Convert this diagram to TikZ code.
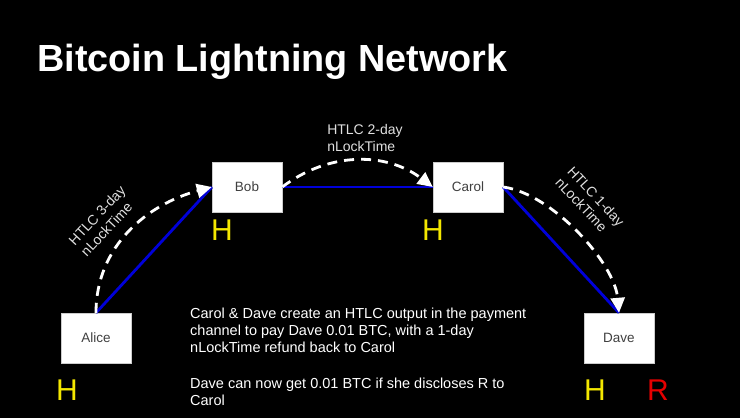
\documentclass[tikz,border=0pt]{standalone}
\usepackage{fontspec}
\setmainfont{Liberation Sans}
\usetikzlibrary{arrows.meta}

\tikzset{
  party/.style={fill=white, draw=black!20, minimum width=70pt, minimum height=50pt,
    inner sep=0pt, font=\fontsize{13.5}{15}\selectfont, text=black!75},
  hashmark/.style={font=\fontsize{30}{30}\selectfont, text=yellow!90!olive},
  channel/.style={line width=2.8pt, blue!85!black},
  htlc/.style={line width=2.8pt, white, dash pattern=on 10pt off 7pt,
    -{Triangle[length=15pt,width=14pt,fill=white]}},
  timelabel/.style={font=\fontsize{14}{16.5}\selectfont, text=black!12, align=left}
}

\begin{document}
\begin{tikzpicture}[x=1pt, y=1pt]
        % background
        \fill[black] (0,0) rectangle (740,418);
        \useasboundingbox (0,0) rectangle (740,418);
        % title
        \node[anchor=base west, text=white, font=\fontsize{37.8}{40}\selectfont\bfseries,
          inner sep=0pt] (title) at (37,346) {Bitcoin Lightning Network};
        % parties
        \node[party] (alice) at (96,80) {Alice};
        \node[party] (bob) at (247,231) {Bob};
        \node[party] (carol) at (468,231) {Carol};
        \node[party] (dave) at (619,80) {Dave};
        % hashes
        \node[hashmark] (hA) at (67,28) {H};
        \node[hashmark] (hB) at (222,188) {H};
        \node[hashmark] (hC) at (433,188) {H};
        \node[hashmark] (hD) at (595,28) {H};
        \node[hashmark, text=red!90!black] (rD) at (658,28) {R};
        % payment channels
        \draw[channel] (alice.north) -- (bob.west);
        \draw[channel] (bob.east) -- (carol.west);
        \draw[channel] (carol.east) -- (dave.north);
        % htlc arrows
        \draw[htlc] (alice.north) to[out=90, in=195] (bob.west);
        \draw[htlc] (bob.east) to[out=37, in=143] (carol.west);
        \draw[htlc] (carol.east) to[out=-8, in=95, looseness=0.75] (dave.north);
        % lock times
        \node[timelabel, rotate=47] (t3) at (103,197) {HTLC 3-day\\nLockTime};
        \node[timelabel] (t2) at (365,280) {HTLC 2-day\\nLockTime};
        \node[timelabel, rotate=-47] (t1) at (590,216) {HTLC 1-day\\nLockTime};
        % explanation
        \node[anchor=north west, align=left, text=white, inner sep=0pt,
          font=\fontsize{14.5}{17}\selectfont] (note) at (190,110)
          {Carol \& Dave create an HTLC output in the payment\\
           channel to pay Dave 0.01 BTC, with a 1-day\\
           nLockTime refund back to Carol\\[19pt]
           Dave can now get 0.01 BTC if she discloses R to\\
           Carol};
      \end{tikzpicture}
\end{document}
